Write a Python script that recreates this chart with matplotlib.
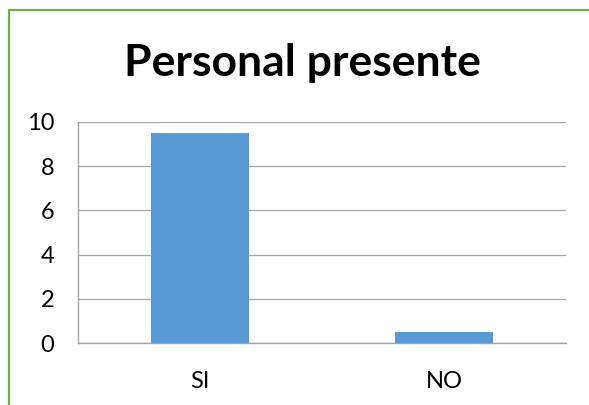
import matplotlib

matplotlib.use("Agg")
import matplotlib.pyplot as plt
from matplotlib.patches import Rectangle

plt.rcParams["font.family"] = ["Lato", "DejaVu Sans"]

categories = ["SI", "NO"]
values = [9.5, 0.5]
y_ticks = [0, 2, 4, 6, 8, 10]
title = "Personal presente"

W, H = 589, 405
fig = plt.figure(figsize=(W / 100, H / 100), dpi=100)
fig.patch.set_facecolor("white")

# green frame, cut off at right and bottom
fig.add_artist(Rectangle((9 / W, -0.1), 1.2, 1 - 10 / H + 0.1, transform=fig.transFigure,
                         fill=False, edgecolor="#70AD47", linewidth=1.6))

ax = fig.add_axes([78 / W, 1 - 343 / H, (566 - 78) / W, (343 - 122) / H])
ax.bar(categories, values, width=0.4, color="#5B9BD5", zorder=3)
ax.set_xlim(-0.5, 1.5)
ax.set_ylim(0, 10)
ax.set_yticks(y_ticks)
ax.grid(True, axis="y", color="#A6A6A6", linewidth=0.9, zorder=0)
for s in ["top", "right"]:
    ax.spines[s].set_visible(False)
for s in ["left", "bottom"]:
    ax.spines[s].set_color("#A6A6A6")
    ax.spines[s].set_linewidth(1.0)
ax.tick_params(axis="both", length=0, labelsize=17, colors="black")
ax.tick_params(axis="y", pad=17)
ax.tick_params(axis="x", pad=20)

fig.text(302 / W, 1 - 63 / H, title, ha="center", va="center", fontsize=32, fontweight="bold")

fig.savefig("out.png", dpi=100, facecolor="white")
